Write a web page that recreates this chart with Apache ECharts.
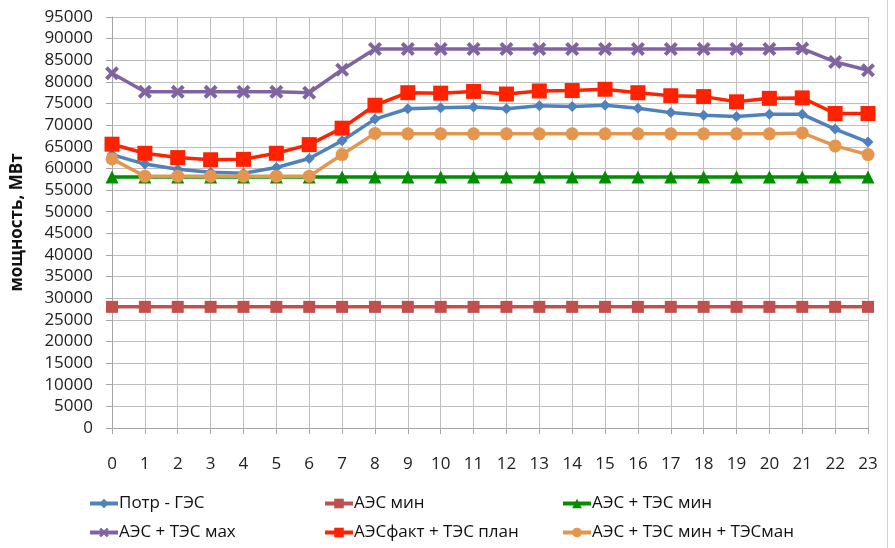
<!DOCTYPE html>
<html><head><meta charset="utf-8">
<script src="https://cdn.jsdelivr.net/npm/echarts@6/dist/echarts.min.js"></script>
<style>html,body{margin:0;padding:0;background:#fff}#c{width:895px;height:548px}</style>
</head><body><div id="c"></div>
<script>
const hours = ['0','1','2','3','4','5','6','7','8','9','10','11','12','13','14','15','16','17','18','19','20','21','22','23'];
const yTicks = [0,5000,10000,15000,20000,25000,30000,35000,40000,45000,50000,55000,60000,65000,70000,75000,80000,85000,90000,95000];
const names = ['Потр - ГЭС','АЭС мин','АЭС + ТЭС мин','АЭС + ТЭС мах','АЭСфакт + ТЭС план','АЭС + ТЭС мин + ТЭСман'];
const potrGes = [63200,61000,59800,59100,58900,60200,62300,66400,71400,73800,74000,74200,73800,74500,74300,74600,73900,72900,72300,72000,72500,72500,69100,66100];
const aesMin = [28000,28000,28000,28000,28000,28000,28000,28000,28000,28000,28000,28000,28000,28000,28000,28000,28000,28000,28000,28000,28000,28000,28000,28000];
const aesTesMin = [58000,58000,58000,58000,58000,58000,58000,58000,58000,58000,58000,58000,58000,58000,58000,58000,58000,58000,58000,58000,58000,58000,58000,58000];
const aesTesMax = [82000,77700,77700,77700,77700,77700,77500,82800,87600,87600,87600,87600,87600,87600,87600,87600,87600,87600,87600,87600,87600,87700,84600,82700];
const aesFactTesPlan = [65600,63500,62500,62000,62100,63500,65500,69300,74600,77500,77400,77800,77200,77900,78000,78300,77500,76800,76600,75400,76200,76300,72700,72700];
const aesTesMinMan = [62200,58200,58200,58200,58200,58200,58200,63200,68100,68000,68000,68000,68000,68000,68000,68000,68000,68000,68000,68000,68000,68200,65200,63200];

const colors = ['#4F81BD','#C0504D','#008E00','#8064A2','#FF2200','#E4964E'];
const dataSets = [potrGes, aesMin, aesTesMin, aesTesMax, aesFactTesPlan, aesTesMinMan];
const xPath = 'path://M2,0 L5,3 L8,0 L10,2 L7,5 L10,8 L8,10 L5,7 L2,10 L0,8 L3,5 L0,2 Z';
const symbols = ['diamond','rect','triangle',xPath,'rect','circle'];
const sizes = [11,12,13,14,15,13];
const FONT = '"Open Sans", "Noto Sans", sans-serif';

const chart = echarts.init(document.getElementById('c'), null, {renderer:'canvas'});
const legendPos = [[88,495],[323,495],[561,495],[88,524],[323,524],[561,524]];
const option = {
  animation:false,
  backgroundColor:'#fff',
  grid:{left:112, right:27, top:17, bottom:120, containLabel:false},
  xAxis:{type:'category', data:hours, boundaryGap:false,
    axisLine:{lineStyle:{color:'#a6a6a6'}},
    axisTick:{show:true, length:6, lineStyle:{color:'#a6a6a6'}},
    axisLabel:{color:'#222', fontSize:17, fontFamily:FONT, margin:28},
    splitLine:{show:true, lineStyle:{color:'#bfbfbf', width:1}}},
  yAxis:{type:'value', min:0, max:95000, interval:5000,
    name:'мощность, МВт', nameLocation:'middle', nameGap:86, nameRotate:90,
    nameTextStyle:{fontWeight:'bold', fontSize:17, color:'#111', fontFamily:FONT},
    axisLine:{show:true, lineStyle:{color:'#a6a6a6'}},
    axisTick:{show:true, length:6, lineStyle:{color:'#a6a6a6'}},
    axisLabel:{color:'#222', fontSize:17, fontFamily:FONT, margin:19,
      formatter:(v)=> yTicks.indexOf(v)>=0 ? String(v) : ''},
    splitLine:{show:true, lineStyle:{color:'#bfbfbf', width:1}}},
  legend: names.map((n,i)=>({data:[n], left:legendPos[i][0], top:legendPos[i][1],
    itemWidth:28, itemHeight:12, itemGap:2, padding:0,
    lineStyle:{width:4},
    textStyle:{fontSize:17, color:'#111', fontFamily:FONT, padding:[0,0,0,-4]}})),
  series: names.map((n,i)=>({name:n, type:'line', data:dataSets[i],
    symbol:symbols[i], symbolSize:sizes[i], showAllSymbol:true,
    lineStyle:{color:colors[i], width:3.5},
    itemStyle:{color:colors[i]}, z:2+i})),
  graphic:[{type:'line', shape:{x1:887.5,y1:0,x2:887.5,y2:548}, style:{stroke:'#d0d0d0', lineWidth:1}}]
};
chart.setOption(option);
</script></body></html>
